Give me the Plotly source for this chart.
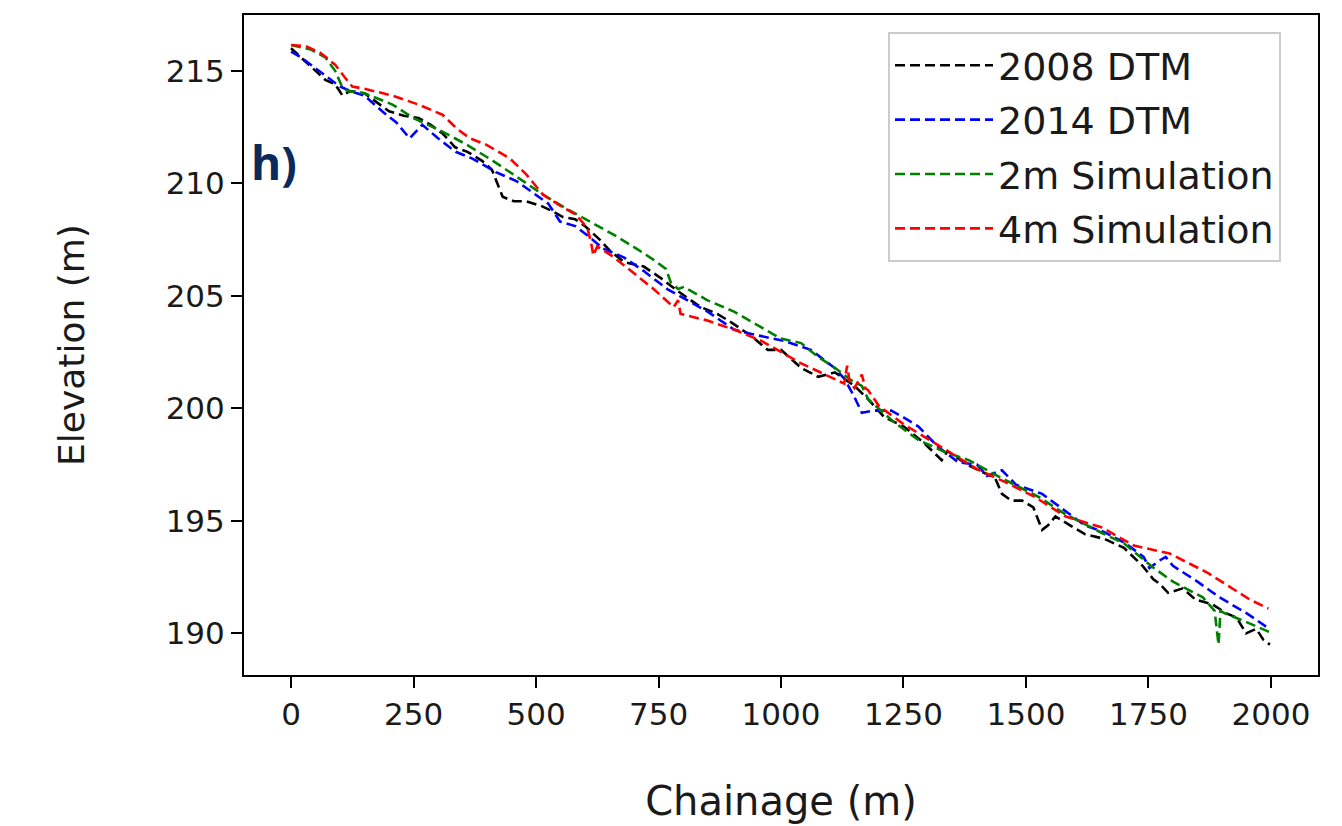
import plotly.graph_objects as go

# ---- data ----
x_2008 = [0, 15, 30, 50, 70, 90, 105, 120, 150, 200, 230, 260, 285, 310, 335, 360, 390, 410, 432, 455,
          480, 510, 530, 555, 580, 600, 630, 651, 680, 720, 754, 790, 836, 870, 900, 940, 973, 1000, 1041, 1076,
          1110, 1150, 1178, 1211, 1250, 1290, 1328, 1340, 1380, 1437, 1451, 1470, 1492, 1515, 1533, 1545, 1560,
          1590, 1621, 1660, 1700, 1738, 1760, 1773, 1790, 1820, 1846, 1880, 1908, 1930, 1949, 1970, 1985, 1998]
y_2008 = [216.0, 215.7, 215.4, 215.0, 214.6, 214.4, 213.9, 214.1, 214.0, 213.2, 213.0, 212.9, 212.6, 212.2,
          211.6, 211.4, 211.0, 210.6, 209.4, 209.2, 209.2, 209.0, 208.8, 208.5, 208.4, 208.1, 207.5, 207.0,
          206.5, 206.3, 205.8, 205.2, 204.5, 204.2, 203.8, 203.2, 202.6, 202.6, 201.8, 201.4, 201.6, 201.0,
          200.4, 199.6, 199.2, 198.5, 197.7, 198.1, 197.5, 196.9, 196.2, 195.9, 195.9, 195.6, 194.6, 194.8,
          195.2, 194.8, 194.4, 194.2, 193.8, 193.0, 192.4, 192.2, 191.8, 192.0, 191.5, 191.3, 190.9, 190.7,
          190.0, 190.2, 189.7, 189.5]

x_2014 = [0, 20, 45, 70, 100, 125, 150, 186, 215, 242, 255, 268, 300, 336, 370, 418, 460, 500, 525, 549,
          580, 610, 637, 680, 720, 768, 800, 850, 904, 940, 1006, 1061, 1109, 1130, 1150, 1165, 1190, 1225,
          1250, 1280, 1320, 1362, 1400, 1420, 1451, 1480, 1533, 1588, 1620, 1660, 1703, 1740, 1752, 1770,
          1785, 1800, 1850, 1895, 1950, 1990]
y_2014 = [215.85, 215.6, 215.2, 214.8, 214.3, 214.07, 213.9, 213.2, 212.7, 212.0, 212.3, 212.6, 212.0,
          211.4, 211.1, 210.5, 210.1, 209.5, 209.1, 208.3, 208.1, 207.6, 207.1, 206.7, 206.1, 205.3, 204.9,
          204.3, 203.5, 203.3, 203.0, 202.6, 201.8, 201.3, 200.5, 199.8, 199.9, 199.9, 199.6, 199.2, 198.3,
          197.6, 197.5, 197.0, 197.25, 196.6, 196.2, 195.3, 194.8, 194.5, 194.0, 193.4, 192.9, 193.2, 193.4,
          193.0, 192.3, 191.6, 190.9, 190.3]

x_2m = [0, 40, 70, 90, 104, 115, 150, 207, 250, 309, 360, 412, 460, 514, 560, 611, 660, 705, 740, 765,
        775, 790, 802, 850, 904, 960, 1000, 1041, 1075, 1110, 1143, 1165, 1178, 1230, 1280, 1330, 1383,
        1450, 1527, 1580, 1656, 1700, 1758, 1800, 1861, 1885, 1893, 1897, 1905, 1950, 1998]
y_2m = [216.15, 215.95, 215.6, 215.0, 214.3, 214.1, 214.0, 213.5, 212.9, 212.3, 211.7, 211.0, 210.3,
        209.5, 208.9, 208.3, 207.7, 207.1, 206.6, 206.2, 205.6, 205.3, 205.4, 204.8, 204.3, 203.6, 203.1,
        202.9, 202.3, 201.8, 201.25, 201.0, 200.4, 199.4, 198.6, 198.1, 197.7, 196.9, 196.05, 195.3, 194.45,
        194.0, 192.95, 192.3, 191.6, 191.0, 189.5, 191.0, 190.9, 190.5, 190.05]

x_4m = [0, 30, 60, 90, 110, 125, 150, 207, 260, 309, 340, 365, 400, 447, 480, 514, 550, 582, 605, 612,
        617, 625, 660, 699, 740, 781, 790, 795, 850, 904, 960, 1041, 1100, 1129, 1135, 1140, 1150, 1165,
        1172, 1178, 1200, 1250, 1314, 1400, 1460, 1519, 1580, 1656, 1720, 1793, 1870, 1957, 1995]
y_4m = [216.15, 216.1, 215.8, 215.27, 214.7, 214.3, 214.2, 213.9, 213.5, 213.05, 212.4, 212.0, 211.7,
        211.1, 210.4, 209.5, 209.0, 208.6, 208.0, 207.4, 206.8, 207.2, 206.7, 206.0, 205.3, 204.5, 204.8,
        204.2, 203.9, 203.5, 203.0, 202.0, 201.4, 201.1, 201.9, 201.2, 200.9, 201.5, 200.9, 200.8, 200.1,
        199.3, 198.45, 197.3, 196.7, 196.05, 195.2, 194.7, 193.9, 193.55, 192.7, 191.5, 191.1]

series = [
    ("2008 DTM", x_2008, y_2008, "black"),
    ("2014 DTM", x_2014, y_2014, "blue"),
    ("2m Simulation", x_2m, y_2m, "green"),
    ("4m Simulation", x_4m, y_4m, "red"),
]

x_ticks = [0, 250, 500, 750, 1000, 1250, 1500, 1750, 2000]
y_ticks = [190, 195, 200, 205, 210, 215]

# page has an 8px body margin; figure sized so the plot lands where the reference has it
W, H = 1334, 818
L, R, T, B = 236, 24, 7, 151
plot_w = W - L - R
plot_h = H - T - B

fig = go.Figure()
for i, (name, xs, ys, col) in enumerate(series):
    fig.add_trace(go.Scatter(
        x=xs, y=ys, mode="lines", name=name, legendgroup=f"g{i}",
        line=dict(color=col, width=2.6, dash="10px,5px"),
    ))

txt = "#1a1a1a"
fig.update_layout(
    width=W, height=H,
    margin=dict(l=L, r=R, t=T, b=B),
    paper_bgcolor="white", plot_bgcolor="white",
    font=dict(family="DejaVu Sans", color=txt),
    showlegend=True,
    legend=dict(
        x=(888 - 8 - L) / plot_w, y=1 - (32 - 8 - T) / plot_h, xanchor="left", yanchor="top",
        bgcolor="white", bordercolor="#cccccc", borderwidth=2,
        font=dict(family="DejaVu Sans", size=38, color=txt),
        tracegroupgap=2, itemwidth=98,
    ),
    xaxis=dict(
        range=[-96, 2096], tickvals=x_ticks, ticktext=[str(v) for v in x_ticks],
        showgrid=False, zeroline=False, showline=True, linecolor="black", linewidth=2,
        mirror=True, ticks="outside", ticklen=11, tickwidth=2, tickcolor="black",
        tickfont=dict(size=31, family="DejaVu Sans", color=txt),
        title=dict(text="Chainage (m)", font=dict(size=40, family="DejaVu Sans", color=txt), standoff=56),
        automargin=False,
    ),
    yaxis=dict(
        range=[188.15, 217.48], tickvals=y_ticks, ticktext=[str(v) for v in y_ticks],
        showgrid=False, zeroline=False, showline=True, linecolor="black", linewidth=2,
        mirror=True, ticks="outside", ticklen=11, tickwidth=2, tickcolor="black",
        tickfont=dict(size=31, family="DejaVu Sans", color=txt),
        title=dict(text="Elevation (m)", font=dict(size=36, family="DejaVu Sans", color=txt), standoff=70),
        automargin=False,
    ),
    annotations=[dict(
        text="<b>h)</b>",
        x=(249 - 8 - L) / plot_w, y=1 - (162 - 8 - T) / plot_h,
        xref="paper", yref="paper", showarrow=False,
        xanchor="left", yanchor="middle",
        font=dict(family="Open Sans", size=46, color="#0b2a5c"),
    )],
)

fig.write_html("out.html")
